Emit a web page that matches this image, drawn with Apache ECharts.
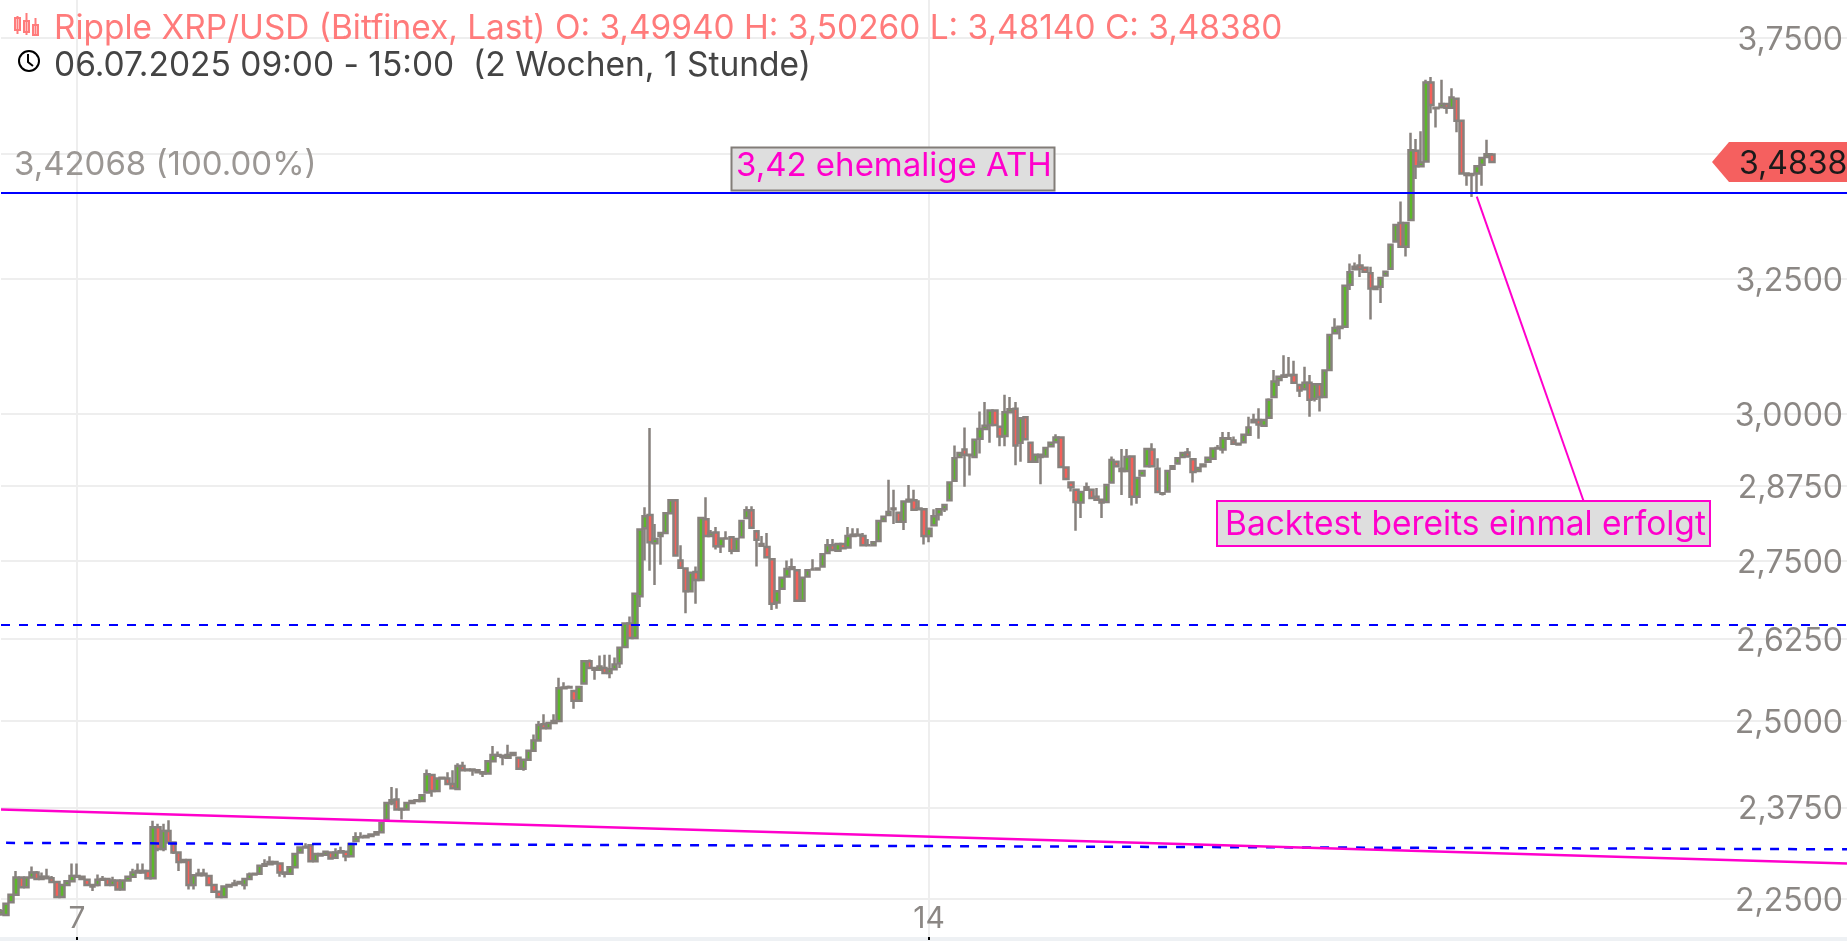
<!DOCTYPE html>
<html>
<head>
<meta charset="utf-8">
<title>Ripple XRP/USD</title>
<script src="https://cdn.jsdelivr.net/npm/echarts@6/dist/echarts.min.js"></script>
<style>
html, body { margin: 0; padding: 0; background: #fff; }
#chart { width: 1847px; height: 941px; }
</style>
</head>
<body>
<div id="chart"></div>
<script>
var candles = [
[2.229,2.233,2.227,2.236],[2.228,2.243,2.228,2.244],[2.245,2.255,2.244,2.256],[2.255,2.278,2.254,2.287],[2.278,2.265,2.264,2.279],
[2.265,2.278,2.264,2.279],[2.278,2.285,2.277,2.293],[2.285,2.276,2.275,2.287],[2.276,2.279,2.275,2.285],[2.279,2.277,2.276,2.29],
[2.277,2.272,2.271,2.28],[2.272,2.252,2.251,2.273],[2.252,2.268,2.251,2.269],[2.268,2.273,2.267,2.274],[2.273,2.28,2.272,2.297],
[2.28,2.279,2.278,2.297],[2.279,2.276,2.275,2.28],[2.275,2.268,2.267,2.276],[2.268,2.266,2.26,2.269],[2.268,2.275,2.266,2.282],
[2.275,2.276,2.274,2.28],[2.276,2.268,2.267,2.277],[2.268,2.274,2.267,2.279],[2.274,2.262,2.261,2.275],[2.262,2.274,2.261,2.275],
[2.274,2.279,2.273,2.28],[2.279,2.285,2.278,2.29],[2.285,2.287,2.284,2.297],[2.287,2.285,2.284,2.297],[2.287,2.277,2.276,2.288],
[2.277,2.347,2.276,2.356],[2.347,2.317,2.314,2.352],[2.317,2.342,2.314,2.352],[2.342,2.326,2.325,2.357],[2.326,2.312,2.31,2.327],
[2.312,2.299,2.287,2.313],[2.299,2.302,2.298,2.303],[2.302,2.268,2.262,2.303],[2.268,2.281,2.262,2.282],[2.281,2.283,2.28,2.29],
[2.283,2.281,2.28,2.29],[2.28,2.268,2.267,2.281],[2.268,2.259,2.258,2.269],[2.259,2.252,2.251,2.26],[2.252,2.266,2.251,2.267],
[2.266,2.268,2.265,2.269],[2.268,2.27,2.267,2.275],[2.27,2.272,2.269,2.273],[2.268,2.276,2.262,2.277],[2.276,2.282,2.275,2.285],
[2.282,2.283,2.281,2.284],[2.283,2.294,2.282,2.295],[2.294,2.296,2.293,2.303],[2.296,2.299,2.295,2.307],[2.299,2.297,2.296,2.3],
[2.297,2.285,2.279,2.298],[2.285,2.283,2.278,2.286],[2.283,2.292,2.282,2.293],[2.292,2.31,2.291,2.311],[2.312,2.319,2.311,2.32],
[2.319,2.32,2.318,2.325],[2.322,2.3,2.299,2.323],[2.3,2.31,2.299,2.311],[2.31,2.308,2.307,2.311],[2.309,2.313,2.308,2.314],
[2.312,2.304,2.303,2.313],[2.305,2.312,2.304,2.318],[2.312,2.314,2.311,2.32],[2.313,2.307,2.3,2.314],[2.307,2.324,2.306,2.325],
[2.328,2.333,2.327,2.34],[2.333,2.333,2.332,2.34],[2.333,2.335,2.332,2.336],[2.335,2.337,2.334,2.338],[2.337,2.34,2.336,2.341],
[2.34,2.353,2.339,2.354],[2.358,2.381,2.357,2.382],[2.381,2.385,2.378,2.404],[2.386,2.372,2.371,2.402],[2.373,2.372,2.358,2.374],
[2.372,2.381,2.371,2.382],[2.381,2.384,2.38,2.385],[2.385,2.384,2.383,2.386],[2.384,2.392,2.383,2.393],[2.396,2.422,2.395,2.429],
[2.421,2.398,2.39,2.422],[2.398,2.416,2.397,2.417],[2.416,2.417,2.415,2.418],[2.416,2.408,2.407,2.425],[2.408,2.402,2.401,2.428],
[2.401,2.434,2.4,2.438],[2.434,2.428,2.427,2.44],[2.428,2.429,2.427,2.43],[2.429,2.428,2.42,2.43],[2.428,2.425,2.424,2.429],
[2.425,2.423,2.418,2.426],[2.423,2.441,2.422,2.442],[2.441,2.45,2.44,2.463],[2.45,2.449,2.448,2.455],[2.449,2.447,2.435,2.45],
[2.446,2.45,2.445,2.465],[2.453,2.45,2.449,2.454],[2.446,2.43,2.429,2.447],[2.43,2.443,2.427,2.444],[2.443,2.456,2.442,2.457],
[2.456,2.471,2.455,2.48],[2.471,2.494,2.47,2.5],[2.495,2.489,2.488,2.51],[2.489,2.497,2.488,2.498],[2.497,2.5,2.496,2.51],
[2.5,2.549,2.499,2.565],[2.549,2.55,2.548,2.558],[2.55,2.551,2.549,2.553],[2.545,2.53,2.518,2.546],[2.53,2.551,2.529,2.552],
[2.556,2.59,2.555,2.591],[2.59,2.58,2.579,2.593],[2.58,2.577,2.562,2.581],[2.577,2.582,2.576,2.599],[2.58,2.572,2.571,2.6],
[2.572,2.578,2.564,2.6],[2.578,2.585,2.577,2.596],[2.587,2.611,2.58,2.612],[2.612,2.649,2.611,2.65],[2.649,2.626,2.625,2.66],
[2.626,2.696,2.625,2.697],[2.692,2.801,2.675,2.802],[2.803,2.823,2.75,2.838],[2.825,2.78,2.733,2.975],[2.778,2.785,2.71,2.81],
[2.79,2.795,2.743,2.796],[2.795,2.828,2.794,2.829],[2.828,2.85,2.827,2.851],[2.85,2.758,2.757,2.851],[2.75,2.738,2.737,2.775],
[2.737,2.7,2.665,2.738],[2.7,2.73,2.699,2.731],[2.731,2.718,2.68,2.74],[2.718,2.82,2.717,2.821],[2.818,2.79,2.789,2.855],
[2.79,2.795,2.789,2.8],[2.796,2.773,2.768,2.805],[2.773,2.786,2.762,2.787],[2.786,2.786,2.785,2.798],[2.788,2.766,2.76,2.789],
[2.766,2.785,2.765,2.786],[2.788,2.815,2.787,2.816],[2.82,2.833,2.819,2.84],[2.833,2.804,2.803,2.84],[2.798,2.784,2.74,2.8],
[2.777,2.774,2.773,2.79],[2.772,2.755,2.754,2.795],[2.752,2.68,2.67,2.753],[2.682,2.7,2.672,2.701],[2.704,2.722,2.703,2.723],
[2.724,2.736,2.723,2.75],[2.736,2.739,2.735,2.753],[2.734,2.685,2.684,2.735],[2.685,2.722,2.684,2.723],[2.724,2.734,2.723,2.735],
[2.735,2.735,2.734,2.752],[2.735,2.737,2.734,2.738],[2.74,2.76,2.739,2.761],[2.762,2.775,2.761,2.785],[2.775,2.767,2.766,2.785],
[2.766,2.777,2.765,2.778],[2.777,2.77,2.769,2.778],[2.771,2.79,2.77,2.805],[2.79,2.792,2.789,2.803],[2.792,2.791,2.79,2.803],
[2.79,2.775,2.774,2.795],[2.775,2.775,2.774,2.785],[2.775,2.78,2.774,2.781],[2.782,2.815,2.781,2.816],[2.815,2.822,2.814,2.823],
[2.825,2.83,2.824,2.885],[2.835,2.836,2.81,2.868],[2.829,2.814,2.813,2.83],[2.814,2.848,2.8,2.849],[2.848,2.851,2.847,2.876],
[2.85,2.834,2.833,2.868],[2.835,2.836,2.834,2.85],[2.835,2.79,2.776,2.836],[2.79,2.802,2.78,2.803],[2.808,2.823,2.807,2.835],
[2.826,2.835,2.816,2.836],[2.835,2.842,2.83,2.843],[2.85,2.88,2.849,2.881],[2.883,2.922,2.882,2.944],[2.924,2.931,2.923,2.932],
[2.937,2.928,2.873,2.976],[2.928,2.927,2.892,2.929],[2.924,2.954,2.923,2.955],[2.956,2.973,2.93,3.004],[2.973,2.979,2.972,3.021],
[2.98,3.006,2.949,3.007],[3.006,2.98,2.979,3.007],[2.977,2.96,2.943,2.978],[2.961,3.003,2.943,3.034],[3.003,3.008,3.002,3.03],
[3.009,2.944,2.91,3.021],[2.949,2.992,2.916,2.993],[2.994,2.955,2.954,2.995],[2.949,2.916,2.915,2.95],[2.916,2.928,2.915,2.929],
[2.928,2.924,2.877,2.929],[2.925,2.94,2.924,2.941],[2.943,2.949,2.942,2.95],[2.95,2.958,2.949,2.964],[2.958,2.907,2.906,2.959],
[2.906,2.886,2.885,2.907],[2.88,2.872,2.865,2.881],[2.868,2.847,2.799,2.869],[2.846,2.864,2.82,2.865],[2.868,2.872,2.867,2.88],
[2.868,2.854,2.853,2.869],[2.856,2.851,2.85,2.871],[2.851,2.846,2.82,2.852],[2.847,2.876,2.846,2.877],[2.88,2.919,2.879,2.925],
[2.916,2.908,2.907,2.917],[2.904,2.9,2.859,2.938],[2.9,2.924,2.899,2.938],[2.925,2.856,2.841,2.926],[2.856,2.888,2.844,2.889],
[2.892,2.9,2.891,2.901],[2.908,2.938,2.907,2.939],[2.937,2.908,2.907,2.948],[2.904,2.864,2.863,2.922],[2.862,2.861,2.858,2.863],
[2.865,2.9,2.864,2.901],[2.904,2.908,2.903,2.909],[2.913,2.922,2.912,2.923],[2.924,2.931,2.923,2.932],[2.932,2.925,2.924,2.94],
[2.92,2.898,2.88,2.921],[2.9,2.905,2.899,2.906],[2.908,2.911,2.907,2.912],[2.916,2.923,2.915,2.924],[2.921,2.939,2.92,2.94],
[2.939,2.94,2.938,2.945],[2.937,2.957,2.93,2.968],[2.957,2.956,2.955,2.968],[2.953,2.947,2.946,2.96],[2.947,2.946,2.945,2.948],
[2.95,2.963,2.949,2.964],[2.963,2.976,2.962,2.995],[2.985,2.989,2.984,3],[2.989,2.981,2.956,3.01],[2.979,2.989,2.978,2.99],
[2.993,3.025,2.992,3.028],[3.03,3.058,3.029,3.079],[3.061,3.067,3.05,3.068],[3.067,3.069,3.066,3.106],[3.069,3.07,3.068,3.103],
[3.07,3.056,3.055,3.096],[3.052,3.042,3.03,3.053],[3.044,3.056,3.043,3.085],[3.056,3.025,2.995,3.07],[3.027,3.053,3.022,3.054],
[3.053,3.03,3.004,3.054],[3.03,3.078,3.029,3.079],[3.079,3.144,3.078,3.145],[3.147,3.157,3.146,3.175],[3.157,3.159,3.136,3.16],
[3.159,3.237,3.158,3.238],[3.239,3.263,3.229,3.28],[3.269,3.274,3.268,3.282],[3.276,3.27,3.254,3.298],[3.272,3.264,3.263,3.273],
[3.261,3.232,3.173,3.274],[3.231,3.235,3.23,3.236],[3.235,3.252,3.204,3.253],[3.257,3.264,3.256,3.265],[3.27,3.317,3.269,3.318],
[3.323,3.356,3.322,3.357],[3.36,3.313,3.312,3.403],[3.313,3.36,3.294,3.361],[3.366,3.508,3.365,3.545],[3.507,3.475,3.449,3.532],
[3.475,3.483,3.474,3.548],[3.485,3.652,3.484,3.658],[3.652,3.604,3.586,3.664],[3.598,3.597,3.556,3.599],[3.599,3.606,3.598,3.658],
[3.606,3.598,3.585,3.607],[3.598,3.62,3.597,3.64],[3.617,3.57,3.546,3.618],[3.57,3.46,3.459,3.571],[3.46,3.457,3.435,3.461],
[3.457,3.459,3.412,3.46],[3.46,3.475,3.419,3.476],[3.478,3.492,3.435,3.493],[3.494,3.5,3.493,3.53],[3.4994,3.4838,3.4814,3.5026]
];
var yTicks = [2.25, 2.375, 2.5, 2.625, 2.75, 2.875, 3, 3.25, 3.5, 3.75];
var yLabels = [2.25, 2.375, 2.5, 2.625, 2.75, 2.875, 3, 3.25, 3.75];
var xTickIndex = [15, 183];
var xTickLabels = ['7', '14'];
var athLevel = 3.42068;
var upperDashLevel = 2.6465;
var lowerDashLine = [2.3254, 2.3165];
var trendLine = [2.372, 2.297];
var backtestLine = [3.413, 2.85];
var lastPrice = 3.4838;

// Stundenachse, laeuft rechts ueber die letzte Kerze hinaus
var categories = [];
var startTime = Date.UTC(2025, 6, 6, 9);
for (var i = 0; i < 365; i++) {
    categories.push(new Date(startTime + i * 3600000).toISOString().slice(0, 13) + ':00');
}

function priceLabel(v) {
    return v.toFixed(4).replace('.', ',');
}

var FONT = 'Inter';
var GRAY = '#8b8784';
var PINK = '#ff00cc';
var chart = echarts.init(document.getElementById('chart'));

function showXTick(index) {
    return xTickIndex.indexOf(index) >= 0;
}

var option = {
    animation: false,
    backgroundColor: '#fff',
    grid: { left: 1, right: 0, top: 0, bottom: 4 },
    xAxis: {
        type: 'category',
        boundaryGap: false,
        data: categories,
        axisLine: { show: false },
        axisTick: { show: true, interval: showXTick, length: 3, lineStyle: { color: '#000', width: 2 } },
        axisLabel: {
            inside: true,
            interval: showXTick,
            margin: 3,
            color: GRAY,
            fontFamily: FONT,
            fontSize: 30,
            formatter: function (value, index) {
                return xTickLabels[xTickIndex.indexOf(index)];
            }
        },
        splitLine: { show: true, interval: showXTick, lineStyle: { color: '#eeeeee', width: 2 } }
    },
    yAxis: {
        type: 'log',
        position: 'right',
        min: 2.199,
        max: 3.8356,
        axisLine: { show: false },
        axisTick: { show: false, customValues: yTicks },
        minorTick: { show: false },
        minorSplitLine: { show: false },
        axisLabel: {
            inside: true,
            margin: 4,
            verticalAlign: 'top',
            lineHeight: 5,
            customValues: yLabels,
            color: GRAY,
            fontFamily: FONT,
            fontSize: 32,
            formatter: priceLabel
        },
        splitLine: { show: true, lineStyle: { color: '#eeeeee', width: 2 } }
    },
    series: [{
        type: 'candlestick',
        name: 'Ripple XRP/USD',
        data: candles,
        barWidth: 5,
        clip: false,
        itemStyle: {
            color: '#5cb82a',
            color0: '#f5605a',
            borderColor: '#87817d',
            borderColor0: '#87817d',
            borderWidth: 2.5
        },
        markLine: {
            silent: true,
            symbol: 'none',
            animation: false,
            precision: 5,
            label: { show: false },
            data: [
                {
                    yAxis: athLevel,
                    lineStyle: { color: '#0000ff', width: 2, type: 'solid' },
                    label: {
                        show: true,
                        position: 'insideStartTop',
                        distance: [13, 11],
                        formatter: '3,42068 (100.00%)',
                        color: '#9b9794',
                        fontFamily: FONT,
                        fontSize: 33
                    }
                },
                { yAxis: upperDashLevel, lineStyle: { color: '#0000ff', width: 2, type: [9, 9] } },
                [
                    { coord: [1, lowerDashLine[0]], lineStyle: { color: '#0000ff', width: 2.5, type: [9, 9] } },
                    { coord: [364, lowerDashLine[1]] }
                ],
                [
                    { coord: [0, trendLine[0]], lineStyle: { color: PINK, width: 2.5, type: 'solid' } },
                    { coord: [364, trendLine[1]] }
                ],
                [
                    { coord: [291, backtestLine[0]], lineStyle: { color: PINK, width: 2, type: 'solid' } },
                    { coord: [312, backtestLine[1]] }
                ]
            ]
        }
    }]
};
chart.setOption(option);

// Kopfzeile, Notizen und Kursschild
var headerRed = '#ff7b7b';
var tagY = chart.convertToPixel({ yAxisIndex: 0 }, lastPrice);
chart.setOption({
    graphic: [
        { type: 'rect', silent: true, shape: { x: 0, y: 937, width: 1847, height: 4 }, style: { fill: '#eef1f4' } },
        // Kerzensymbol
        { type: 'rect', shape: { x: 15, y: 18, width: 5, height: 12 }, style: { fill: 'none', stroke: headerRed, lineWidth: 2 } },
        { type: 'line', shape: { x1: 17.5, y1: 16, x2: 17.5, y2: 34 }, style: { stroke: headerRed, lineWidth: 2 } },
        { type: 'rect', shape: { x: 24, y: 21, width: 5, height: 11 }, style: { fill: 'none', stroke: headerRed, lineWidth: 2 } },
        { type: 'line', shape: { x1: 26.5, y1: 13, x2: 26.5, y2: 35 }, style: { stroke: headerRed, lineWidth: 2 } },
        { type: 'rect', shape: { x: 33, y: 25, width: 5, height: 10 }, style: { fill: 'none', stroke: headerRed, lineWidth: 2 } },
        { type: 'line', shape: { x1: 35.5, y1: 18, x2: 35.5, y2: 35 }, style: { stroke: headerRed, lineWidth: 2 } },
        { type: 'text', left: 54, top: 12, style: { text: 'Ripple XRP/USD (Bitfinex, Last) O: 3,49940 H: 3,50260 L: 3,48140 C: 3,48380', fill: headerRed, font: '33.4px ' + FONT } },
        // Uhrsymbol
        { type: 'circle', shape: { cx: 29, cy: 61, r: 10 }, style: { fill: 'none', stroke: '#000', lineWidth: 2 } },
        { type: 'polyline', shape: { points: [[28, 54], [28, 62], [33, 66]] }, style: { fill: 'none', stroke: '#000', lineWidth: 2 } },
        { type: 'text', left: 54, top: 49, style: { text: '06.07.2025 09:00 - 15:00  (2 Wochen, 1 Stunde)', fill: '#444444', font: '33.5px ' + FONT } },
        // Notizen
        { type: 'rect', shape: { x: 731.5, y: 147.5, width: 323, height: 43 }, style: { fill: '#dedede', stroke: '#827d78', lineWidth: 2 } },
        { type: 'text', left: 736, top: 150, style: { text: '3,42 ehemalige ATH', fill: PINK, font: '33px ' + FONT } },
        { type: 'rect', shape: { x: 1217, y: 501, width: 493, height: 45 }, style: { fill: '#dedede', stroke: PINK, lineWidth: 2 } },
        { type: 'text', left: 1225, top: 508, style: { text: 'Backtest bereits einmal erfolgt', fill: PINK, font: '33.5px ' + FONT } },
        // Kursschild rechts
        { type: 'polygon', shape: { points: [[1712, tagY], [1729, tagY - 20], [1847, tagY - 20], [1847, tagY + 20], [1729, tagY + 20]] }, style: { fill: '#f5605f' } },
        { type: 'text', left: 1739, top: tagY - 14, style: { text: priceLabel(lastPrice), fill: '#1a1a1a', font: '32px ' + FONT } }
    ]
});
</script>
</body>
</html>
